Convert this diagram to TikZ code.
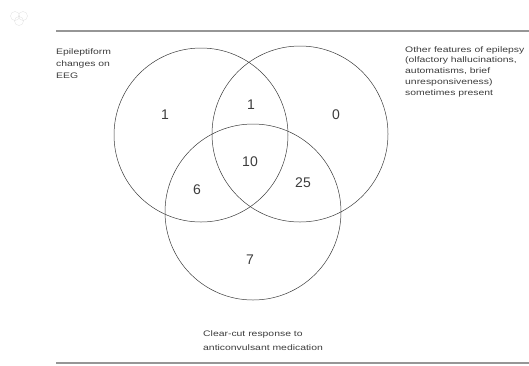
\documentclass[tikz,border=0pt]{standalone}
\usepackage{fontspec}
\setmainfont{Liberation Sans}
\newfontfamily\labelfont[FakeStretch=1.3]{Liberation Sans}
\usepackage{tikz}
\usetikzlibrary{calc}
\usepackage{xcolor}

\definecolor{ink}{RGB}{60,60,60}
\definecolor{rulegray}{RGB}{150,150,150}

\tikzset{
  setring/.style={circle, draw=ink, line width=0.5pt, inner sep=0pt, minimum size=#1},
  count/.style={font=\fontsize{14}{14}\selectfont, text=ink, inner sep=0pt},
  caption/.style={font=\labelfont\fontsize{8}{#1}\selectfont, text=ink, align=left, anchor=north west, inner sep=0pt},
}

\begin{document}
\begin{tikzpicture}[x=1pt, y=-1pt]
	\useasboundingbox (0,0) rectangle (529,365);

	% rules
	\coordinate (TL) at (56,31);
	\coordinate (TR) at (529,31);
	\coordinate (BL) at (56,363);
	\coordinate (BR) at (529,363);
	\draw [rulegray, line width=1.5pt] (TL) -- (TR);
	\draw [rulegray, line width=1.5pt] (BL) -- (BR);

	% small thumbnail
	\draw [gray!25, line width=0.3pt] (15,16) circle (4.5) (23,16) circle (4.5) (19,21) circle (4.5);

	% the three sets
	\node [setring=174pt] (eeg) at (201,135) {};
	\node [setring=176pt] (other) at (300,134) {};
	\node [setring=176pt] (drug) at (253,212) {};

	% counts
	\node [count] (n1) at (165,115) {1};
	\node [count] (n2) at (251,105) {1};
	\node [count] (n3) at (336,115) {0};
	\node [count] (n4) at (250,162) {10};
	\node [count] (n5) at (197,190) {6};
	\node [count] (n6) at (303,183) {25};
	\node [count] (n7) at (250,260) {7};

	% captions
	\node [caption=12] (eeglabel) at (56,48) {Epileptiform\\changes on\\EEG};
	\node [caption=10.8] (otherlabel) at (405,46) {Other features of epilepsy\\(olfactory hallucinations,\\automatisms, brief\\unresponsiveness)\\sometimes present};
	\node [caption=14] (druglabel) at (203,330) {Clear-cut response to\\anticonvulsant medication};
\end{tikzpicture}
\end{document}
